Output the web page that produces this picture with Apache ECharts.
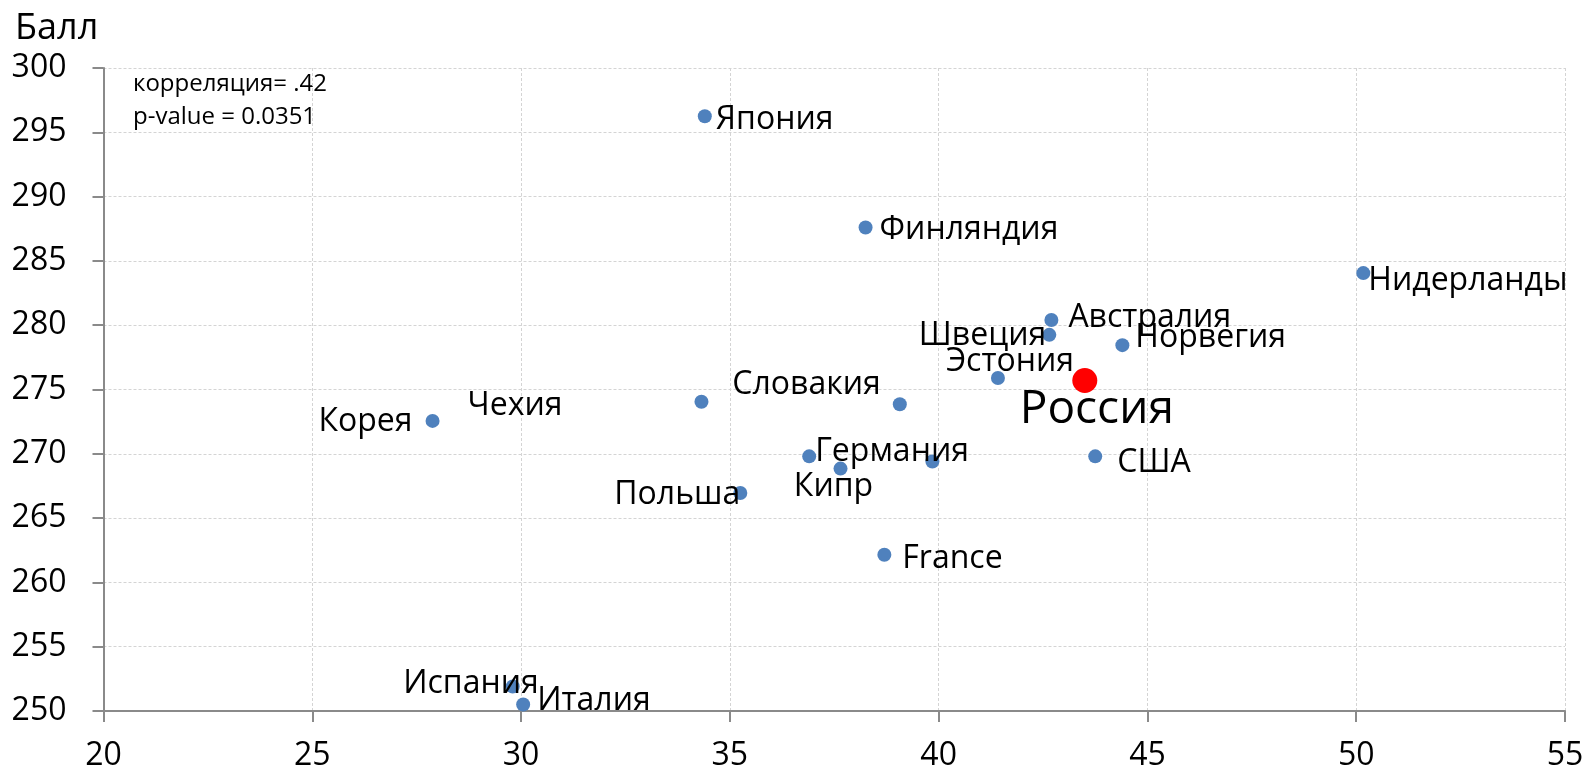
<!DOCTYPE html>
<html>
<head>
<meta charset="utf-8">
<script src="https://cdn.jsdelivr.net/npm/echarts@6/dist/echarts.min.js"></script>
<style>
html,body{margin:0;padding:0;background:#fff;}
#chart{width:1587px;height:775px;}
</style>
</head>
<body>
<div id="chart"></div>
<script>
// ---- data ----
const countries = ['Япония','Финляндия','Нидерланды','Австралия','Швеция','Норвегия','Эстония','Словакия','Чехия','Корея','Германия','Кипр','','Польша','США','France','Испания','Италия'];
const xValues  = [34.4, 38.25, 50.17, 42.7, 42.65, 44.4, 41.42, 39.07, 34.32, 27.88, 36.9, 37.65, 39.85, 35.25, 43.75, 38.7, 29.8, 30.05];
const yValues  = [296.25, 287.6, 284.05, 280.4, 279.25, 278.45, 275.9, 273.85, 274.05, 272.56, 269.8, 268.85, 269.4, 266.95, 269.8, 262.15, 251.9, 250.5];
const highlightName = ['Россия'];
const highlightX = [43.5];
const highlightY = [275.7];
const xTicks = [20, 25, 30, 35, 40, 45, 50, 55];
const yTicks = [250, 255, 260, 265, 270, 275, 280, 285, 290, 295, 300];
const statsText = ['корреляция= .42', 'p-value = 0.0351'];
const yTitle = 'Балл';

// ---- label placement (style) ----
const labelPlacement = {
  'Япония': ['left', 11, 4],
  'Финляндия': ['left', 14, 2],
  'Нидерланды': ['left', 5, 8],
  'Австралия': ['left', 17, -2],
  'Швеция': ['right', -3, 1],
  'Норвегия': ['left', 13, -7],
  'Эстония': ['center', 12, -16],
  'Россия': ['center', 12, 29],
  'Словакия': ['right', -19, -19],
  'Чехия': ['right', -139, 4],
  'Корея': ['right', -20, 1],
  'Германия': ['left', 6, -4],
  'Кипр': ['center', -7, 18],
  'Польша': ['right', 0, 2],
  'США': ['left', 22, 7],
  'France': ['left', 18, 4],
  'Испания': ['right', 26, -3],
  'Италия': ['left', 14, -4]
};
const FONT = '"Open Sans", "Noto Sans", sans-serif';

function mkItem(name, x, y, fontSize) {
  const p = labelPlacement[name];
  const item = { name: name, value: [x, y] };
  if (p && name) {
    item.label = {
      show: true, position: 'inside', formatter: '{b}',
      align: p[0], verticalAlign: 'middle', offset: [p[1], p[2]],
      fontSize: fontSize, color: '#000', fontFamily: FONT
    };
  } else {
    item.label = { show: false };
  }
  return item;
}
const blueData = countries.map((c, i) => mkItem(c, xValues[i], yValues[i], 32));
const redData = highlightName.map((c, i) => mkItem(c, highlightX[i], highlightY[i], 46));

const chart = echarts.init(document.getElementById('chart'), null, {renderer: 'canvas'});
const axisLineStyle = { color: '#8a8a8a', width: 2 };
const splitStyle = { color: '#d4d4d4', width: 1, type: [3, 2] };
chart.setOption({
  animation: false,
  backgroundColor: '#fff',
  title: { text: yTitle, left: 10, top: 6, textStyle: { fontSize: 36, fontWeight: 'normal', color: '#000', fontFamily: FONT } },
  grid: { left: 103.5, right: 22, top: 68, bottom: 64, containLabel: false },
  xAxis: {
    type: 'value', min: xTicks[0], max: xTicks[xTicks.length - 1], interval: 5,
    axisLine: { show: true, lineStyle: axisLineStyle },
    axisTick: { show: true, length: 11, lineStyle: axisLineStyle },
    axisLabel: { fontSize: 32, color: '#000', margin: 29, fontFamily: FONT },
    splitLine: { show: true, lineStyle: splitStyle }
  },
  yAxis: {
    type: 'value', min: yTicks[0], max: yTicks[yTicks.length - 1], interval: 5,
    axisLine: { show: true, lineStyle: axisLineStyle },
    axisTick: { show: true, length: 11, lineStyle: axisLineStyle },
    axisLabel: { fontSize: 32, color: '#000', margin: 37, fontFamily: FONT },
    splitLine: { show: true, lineStyle: splitStyle }
  },
  graphic: [
    { type: 'text', left: 133, top: 72, style: { text: statsText[0], fontSize: 24, fill: '#000', fontFamily: FONT } },
    { type: 'text', left: 133, top: 105, style: { text: statsText[1], fontSize: 24, fill: '#000', fontFamily: FONT } }
  ],
  series: [
    { type: 'scatter', symbolSize: 14, itemStyle: { color: '#4F81BD', opacity: 1 }, data: blueData, z: 2 },
    { type: 'scatter', symbolSize: 25, itemStyle: { color: '#FF0000', opacity: 1 }, data: redData, z: 3 }
  ]
});
</script>
</body>
</html>
